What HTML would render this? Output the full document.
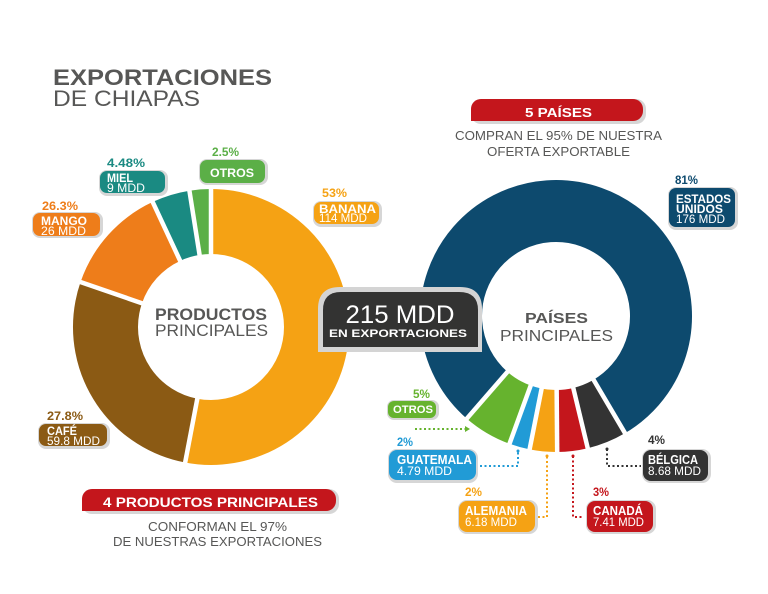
<!DOCTYPE html>
<html><head><meta charset="utf-8"><style>
html,body{margin:0;padding:0;background:#fff;}
svg{display:block;}
text{font-family:"Liberation Sans",sans-serif;}
.b{font-weight:bold;}
</style></head><body>
<svg width="768" height="594" viewBox="0 0 768 594" xmlns="http://www.w3.org/2000/svg">
<rect width="768" height="594" fill="#fff"/>

<!-- Title -->
<text x="53" y="85" font-size="22.5" class="b" fill="#575756" textLength="219" lengthAdjust="spacingAndGlyphs">EXPORTACIONES</text>
<text x="53" y="106" font-size="22" fill="#575756" textLength="147" lengthAdjust="spacingAndGlyphs">DE CHIAPAS</text>

<!-- LEFT DONUT center (211,327) mid r 105.5 width 65 C=662.87 -->
<g fill="none" stroke-width="65">
<circle cx="211" cy="327" r="105.5" stroke="#F5A214" stroke-dasharray="351.33 700" transform="rotate(-90 211 327)"/>
<circle cx="211" cy="327" r="105.5" stroke="#8B5A14" stroke-dasharray="180.82 700" transform="rotate(100.8 211 327)"/>
<circle cx="211" cy="327" r="105.5" stroke="#EE7D1A" stroke-dasharray="84.70 700" transform="rotate(199 211 327)"/>
<circle cx="211" cy="327" r="105.5" stroke="#1A8A82" stroke-dasharray="29.46 700" transform="rotate(245 211 327)"/>
<circle cx="211" cy="327" r="105.5" stroke="#5BAF47" stroke-dasharray="16.57 700" transform="rotate(261 211 327)"/>
</g>
<g stroke="#fff" stroke-width="4.5">
<line x1="211" y1="327" x2="211" y2="180" transform="rotate(0 211 327)"/>
<line x1="211" y1="327" x2="211" y2="180" transform="rotate(190.8 211 327)"/>
<line x1="211" y1="327" x2="211" y2="180" transform="rotate(289 211 327)"/>
<line x1="211" y1="327" x2="211" y2="180" transform="rotate(335 211 327)"/>
<line x1="211" y1="327" x2="211" y2="180" transform="rotate(351 211 327)"/>
</g>
<circle cx="211" cy="327" r="72" fill="#fff"/>
<text x="155" y="320" font-size="16.5" class="b" fill="#575756" textLength="112" lengthAdjust="spacingAndGlyphs">PRODUCTOS</text>
<text x="155" y="336" font-size="16.5" fill="#575756" textLength="113" lengthAdjust="spacingAndGlyphs">PRINCIPALES</text>

<!-- RIGHT DONUT center (556,316) mid r 105 width 62 C=659.73 -->
<g fill="none" stroke-width="62">
<circle cx="556" cy="316" r="105" stroke="#0D4A6E" stroke-dasharray="528.71 700" transform="rotate(131 556 316)"/>
<circle cx="556" cy="316" r="105" stroke="#333333" stroke-dasharray="31.15 700" transform="rotate(59.5 556 316)"/>
<circle cx="556" cy="316" r="105" stroke="#C4161C" stroke-dasharray="23.82 700" transform="rotate(76.5 556 316)"/>
<circle cx="556" cy="316" r="105" stroke="#F5A214" stroke-dasharray="21.44 700" transform="rotate(89.5 556 316)"/>
<circle cx="556" cy="316" r="105" stroke="#219BD6" stroke-dasharray="16.13 700" transform="rotate(101.2 556 316)"/>
<circle cx="556" cy="316" r="105" stroke="#66B32E" stroke-dasharray="38.48 700" transform="rotate(110 556 316)"/>
</g>
<g stroke="#fff" stroke-width="4.5">
<line x1="556" y1="316" x2="556" y2="172" transform="rotate(149.5 556 316)"/>
<line x1="556" y1="316" x2="556" y2="172" transform="rotate(166.5 556 316)"/>
<line x1="556" y1="316" x2="556" y2="172" transform="rotate(179.5 556 316)"/>
<line x1="556" y1="316" x2="556" y2="172" transform="rotate(191.2 556 316)"/>
<line x1="556" y1="316" x2="556" y2="172" transform="rotate(200 556 316)"/>
<line x1="556" y1="316" x2="556" y2="172" transform="rotate(221 556 316)"/>
</g>
<circle cx="556" cy="316" r="73" fill="#fff"/>
<text x="525" y="323" font-size="14.5" class="b" fill="#575756" textLength="63" lengthAdjust="spacingAndGlyphs">PAÍSES</text>
<text x="500" y="341" font-size="16" fill="#575756" textLength="113" lengthAdjust="spacingAndGlyphs">PRINCIPALES</text>

<!-- Center box -->
<path d="M318,352 L318,309 Q318,287 340,287 L460,287 Q482,287 482,309 L482,352 Z" fill="#d4d4d4"/>
<path d="M323,347 L323,310 Q323,292 341,292 L459,292 Q478,292 478,310 L478,347 Z" fill="#333332"/>
<text x="400" y="323" font-size="25" fill="#fff" text-anchor="middle" textLength="109" lengthAdjust="spacingAndGlyphs">215 MDD</text>
<text x="329" y="337" font-size="11" class="b" fill="#fff" textLength="138" lengthAdjust="spacingAndGlyphs">EN EXPORTACIONES</text>

<!-- LEFT LABELS -->
<!-- OTROS -->
<text x="212" y="156" font-size="11.5" class="b" fill="#5BAF47" textLength="27" lengthAdjust="spacingAndGlyphs">2.5%</text>
<rect x="199" y="159" width="69" height="26" rx="8" fill="#d6d6d6"/>
<rect x="200" y="160" width="65" height="23" rx="7" fill="#5BAF47"/>
<text x="210" y="177" font-size="12" class="b" fill="#fff" textLength="44" lengthAdjust="spacingAndGlyphs">OTROS</text>
<!-- MIEL -->
<text x="107" y="167" font-size="11.5" class="b" fill="#1A8A82" textLength="38" lengthAdjust="spacingAndGlyphs">4.48%</text>
<rect x="99" y="170" width="69" height="26" rx="8" fill="#d6d6d6"/>
<rect x="100" y="171" width="65" height="22" rx="7" fill="#1A8A82"/>
<text x="107" y="182" font-size="11.5" class="b" fill="#fff" textLength="26" lengthAdjust="spacingAndGlyphs">MIEL</text>
<text x="107" y="192" font-size="11.5" fill="#fff" textLength="38" lengthAdjust="spacingAndGlyphs">9 MDD</text>
<!-- BANANA -->
<text x="322" y="197" font-size="11.5" class="b" fill="#F5A214" textLength="25" lengthAdjust="spacingAndGlyphs">53%</text>
<rect x="313" y="201" width="69" height="26" rx="8" fill="#d6d6d6"/>
<rect x="314" y="202" width="65" height="22" rx="7" fill="#F5A214"/>
<text x="319" y="213" font-size="12" class="b" fill="#fff" textLength="57" lengthAdjust="spacingAndGlyphs">BANANA</text>
<text x="319" y="222" font-size="11.5" fill="#fff" textLength="48" lengthAdjust="spacingAndGlyphs">114 MDD</text>
<!-- MANGO -->
<text x="42" y="210" font-size="11.5" class="b" fill="#EE7D1A" textLength="36" lengthAdjust="spacingAndGlyphs">26.3%</text>
<rect x="32" y="212" width="71" height="26" rx="8" fill="#d6d6d6"/>
<rect x="33" y="213" width="67" height="23" rx="7" fill="#EE7D1A"/>
<text x="41" y="225" font-size="12" class="b" fill="#fff" textLength="46" lengthAdjust="spacingAndGlyphs">MANGO</text>
<text x="41" y="235" font-size="11.5" fill="#fff" textLength="45" lengthAdjust="spacingAndGlyphs">26 MDD</text>
<!-- CAFE -->
<text x="47" y="420" font-size="11.5" class="b" fill="#8B5A14" textLength="36" lengthAdjust="spacingAndGlyphs">27.8%</text>
<rect x="38" y="423" width="72" height="26" rx="8" fill="#d6d6d6"/>
<rect x="39" y="424" width="68" height="22" rx="7" fill="#8B5A14"/>
<text x="47" y="435" font-size="12" class="b" fill="#fff" textLength="30" lengthAdjust="spacingAndGlyphs">CAFÉ</text>
<text x="47" y="445" font-size="11.5" fill="#fff" textLength="53" lengthAdjust="spacingAndGlyphs">59.8 MDD</text>

<!-- Left red banner -->
<rect x="82" y="489" width="257" height="25" rx="10" fill="#d6d6d6"/>
<rect x="82" y="489" width="254" height="22" rx="10" fill="#C4161C"/>
<rect x="82" y="500" width="12" height="11" fill="#C4161C"/>
<text x="103" y="507" font-size="13.5" class="b" fill="#fff" textLength="215" lengthAdjust="spacingAndGlyphs">4 PRODUCTOS PRINCIPALES</text>
<text x="148" y="531" font-size="12.5" fill="#575756" textLength="139" lengthAdjust="spacingAndGlyphs">CONFORMAN EL 97%</text>
<text x="113" y="546" font-size="12.5" fill="#575756" textLength="209" lengthAdjust="spacingAndGlyphs">DE NUESTRAS EXPORTACIONES</text>

<!-- Right red banner -->
<rect x="471" y="99" width="175" height="25" rx="10" fill="#d6d6d6"/>
<rect x="471" y="99" width="172" height="22" rx="10" fill="#C4161C"/>
<rect x="471" y="110" width="12" height="11" fill="#C4161C"/>
<text x="525" y="117" font-size="13" class="b" fill="#fff" textLength="67" lengthAdjust="spacingAndGlyphs">5 PAÍSES</text>
<text x="455" y="140" font-size="12.5" fill="#575756" textLength="207" lengthAdjust="spacingAndGlyphs">COMPRAN EL 95% DE NUESTRA</text>
<text x="487" y="156" font-size="12.5" fill="#575756" textLength="143" lengthAdjust="spacingAndGlyphs">OFERTA EXPORTABLE</text>

<!-- ESTADOS UNIDOS -->
<text x="675" y="184" font-size="11.5" class="b" fill="#0D4A6E" textLength="23" lengthAdjust="spacingAndGlyphs">81%</text>
<rect x="668" y="187" width="70" height="43" rx="8" fill="#d6d6d6"/>
<rect x="669" y="188" width="66" height="39" rx="7" fill="#0D4A6E"/>
<text x="676" y="203" font-size="11.5" class="b" fill="#fff" textLength="55" lengthAdjust="spacingAndGlyphs">ESTADOS</text>
<text x="676" y="213" font-size="11.5" class="b" fill="#fff" textLength="47" lengthAdjust="spacingAndGlyphs">UNIDOS</text>
<text x="676" y="223" font-size="11.5" fill="#fff" textLength="49" lengthAdjust="spacingAndGlyphs">176 MDD</text>

<!-- RIGHT BOTTOM LABELS -->
<g fill="none" stroke-width="2" stroke-dasharray="2 2.5">
<path d="M415,429 H465" stroke="#66B32E"/>
<path d="M480,466 H518 V452" stroke="#219BD6"/>
<path d="M538,517 H547 V456" stroke="#F5A214"/>
<path d="M573,456 V517 H584" stroke="#C4161C"/>
<path d="M607,449 V466 H641" stroke="#333333"/>
</g>
<path d="M465,426 L470,429 L465,432 Z" fill="#66B32E"/>
<circle cx="518" cy="451" r="1.5" fill="#219BD6"/>
<circle cx="547" cy="456" r="1.5" fill="#F5A214"/>
<circle cx="573" cy="456" r="1.5" fill="#C4161C"/>
<circle cx="607" cy="449" r="1.5" fill="#333333"/>

<!-- OTROS right -->
<text x="413" y="398" font-size="11.5" class="b" fill="#66B32E" textLength="17" lengthAdjust="spacingAndGlyphs">5%</text>
<rect x="387" y="400" width="52" height="20" rx="7" fill="#d6d6d6"/>
<rect x="388" y="401" width="48" height="17" rx="6" fill="#66B32E"/>
<text x="393" y="413" font-size="11" class="b" fill="#fff" textLength="40" lengthAdjust="spacingAndGlyphs">OTROS</text>
<!-- GUATEMALA -->
<text x="397" y="446" font-size="11.5" class="b" fill="#219BD6" textLength="16" lengthAdjust="spacingAndGlyphs">2%</text>
<rect x="388" y="449" width="90" height="34" rx="9" fill="#d6d6d6"/>
<rect x="389" y="450" width="87" height="30" rx="8" fill="#219BD6"/>
<text x="397" y="464" font-size="12.5" class="b" fill="#fff" textLength="75" lengthAdjust="spacingAndGlyphs">GUATEMALA</text>
<text x="397" y="475" font-size="12" fill="#fff" textLength="55" lengthAdjust="spacingAndGlyphs">4.79 MDD</text>
<!-- ALEMANIA -->
<text x="465" y="496" font-size="11.5" class="b" fill="#F5A214" textLength="17" lengthAdjust="spacingAndGlyphs">2%</text>
<rect x="458" y="500" width="80" height="34" rx="9" fill="#d6d6d6"/>
<rect x="459" y="501" width="76" height="31" rx="8" fill="#F5A214"/>
<text x="465" y="515" font-size="12.5" class="b" fill="#fff" textLength="62" lengthAdjust="spacingAndGlyphs">ALEMANIA</text>
<text x="465" y="526" font-size="12" fill="#fff" textLength="52" lengthAdjust="spacingAndGlyphs">6.18 MDD</text>
<!-- CANADA -->
<text x="593" y="496" font-size="11.5" class="b" fill="#C4161C" textLength="16" lengthAdjust="spacingAndGlyphs">3%</text>
<rect x="586" y="500" width="70" height="34" rx="9" fill="#d6d6d6"/>
<rect x="587" y="501" width="66" height="31" rx="8" fill="#C4161C"/>
<text x="593" y="515" font-size="12.5" class="b" fill="#fff" textLength="50" lengthAdjust="spacingAndGlyphs">CANADÁ</text>
<text x="593" y="526" font-size="12" fill="#fff" textLength="51" lengthAdjust="spacingAndGlyphs">7.41 MDD</text>
<!-- BELGICA -->
<text x="648" y="444" font-size="11.5" class="b" fill="#333333" textLength="17" lengthAdjust="spacingAndGlyphs">4%</text>
<rect x="642" y="449" width="69" height="34" rx="9" fill="#d6d6d6"/>
<rect x="643" y="450" width="65" height="31" rx="8" fill="#333333"/>
<text x="648" y="464" font-size="12.5" class="b" fill="#fff" textLength="50" lengthAdjust="spacingAndGlyphs">BÉLGICA</text>
<text x="648" y="475" font-size="12" fill="#fff" textLength="53" lengthAdjust="spacingAndGlyphs">8.68 MDD</text>
</svg>
</body></html>
